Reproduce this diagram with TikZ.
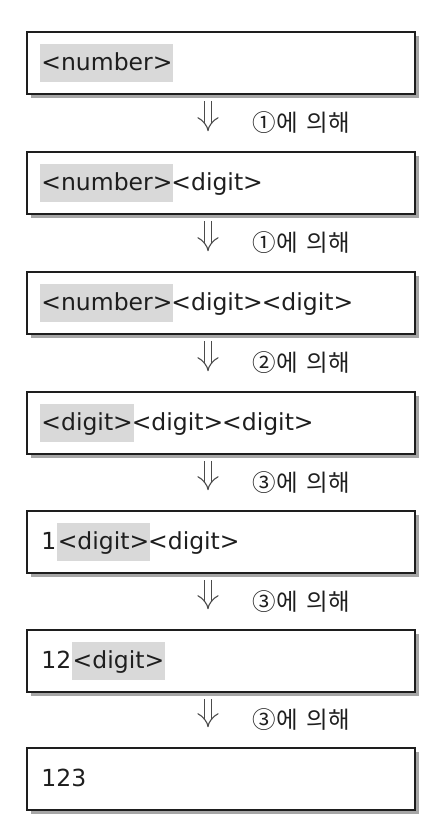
\documentclass[tikz,border=0pt]{standalone}
\usepackage{fontspec}
\setmainfont{DejaVu Sans}
\newfontfamily\krfont{Noto Sans CJK KR}
\usetikzlibrary{positioning,arrows.meta,shadows}
\definecolor{hlgray}{HTML}{D9D9D9}
\definecolor{ink}{HTML}{1E1E1E}

\tikzset{
	box/.style={draw=ink, line width=1.6pt, fill=white, minimum width=388pt, minimum height=62pt, inner sep=0pt,
		drop shadow={shadow xshift=4pt, shadow yshift=-4pt, fill=black!35, opacity=1}},
	tok/.style={inner xsep=1pt, inner ysep=0pt, text height=26pt, text depth=12pt, text=ink,
		font=\fontsize{23.5}{26}\selectfont},
	hl/.style={tok, fill=hlgray},
	imp/.style={draw=black!70, line width=1.1pt, double=white, double distance=6.5pt,
		-{Implies}, shorten <=6pt, shorten >=20pt},
	lbl/.style={font=\krfont\fontsize{23.5}{26}\selectfont, text=ink, inner sep=0pt, anchor=west, xshift=44pt}
}

\begin{document}
\begin{tikzpicture}[x=1pt, y=-1pt]
			\useasboundingbox (0,0) rectangle (441,838);

			\node[box] (b1) at (221,63) {};
			\node[box] (b2) at (221,183) {};
			\node[box] (b3) at (221,303) {};
			\node[box] (b4) at (221,423) {};
			\node[box] (b5) at (221,542) {};
			\node[box] (b6) at (221,661) {};
			\node[box] (b7) at (221,779) {};

			\coordinate (ax) at (208,0);

			% derivation steps
			\node[hl, anchor=base west] (t1a) at ([xshift=14pt, yshift=-7pt]b1.west) {<number>};

			\node[hl, anchor=base west] (t2a) at ([xshift=14pt, yshift=-7pt]b2.west) {<number>};
			\node[tok, right=-3.5pt of t2a] (t2b) {<digit>};

			\node[hl, anchor=base west] (t3a) at ([xshift=14pt, yshift=-7pt]b3.west) {<number>};
			\node[tok, right=-3.5pt of t3a] (t3b) {<digit>};
			\node[tok, right=-3.5pt of t3b] (t3c) {<digit>};

			\node[hl, anchor=base west] (t4a) at ([xshift=14pt, yshift=-7pt]b4.west) {<digit>};
			\node[tok, right=-3.5pt of t4a] (t4b) {<digit>};
			\node[tok, right=-3.5pt of t4b] (t4c) {<digit>};

			\node[tok, anchor=base west] (t5a) at ([xshift=14pt, yshift=-7pt]b5.west) {1};
			\node[hl, right=-1pt of t5a] (t5b) {<digit>};
			\node[tok, right=-3.5pt of t5b] (t5c) {<digit>};

			\node[tok, anchor=base west] (t6a) at ([xshift=14pt, yshift=-7pt]b6.west) {12};
			\node[hl, right=-1pt of t6a] (t6b) {<digit>};

			\node[tok, anchor=base west] (t7a) at ([xshift=14pt, yshift=-7pt]b7.west) {123};

			\foreach \a/\b/\rl in {b1/b2/①, b2/b3/①, b3/b4/②, b4/b5/③, b5/b6/③, b6/b7/③}
			\draw[imp] (\a.south -| ax) -- node[lbl] {\rl 에\hspace{9pt}의해} (\b.north -| ax);
\end{tikzpicture}
\end{document}
